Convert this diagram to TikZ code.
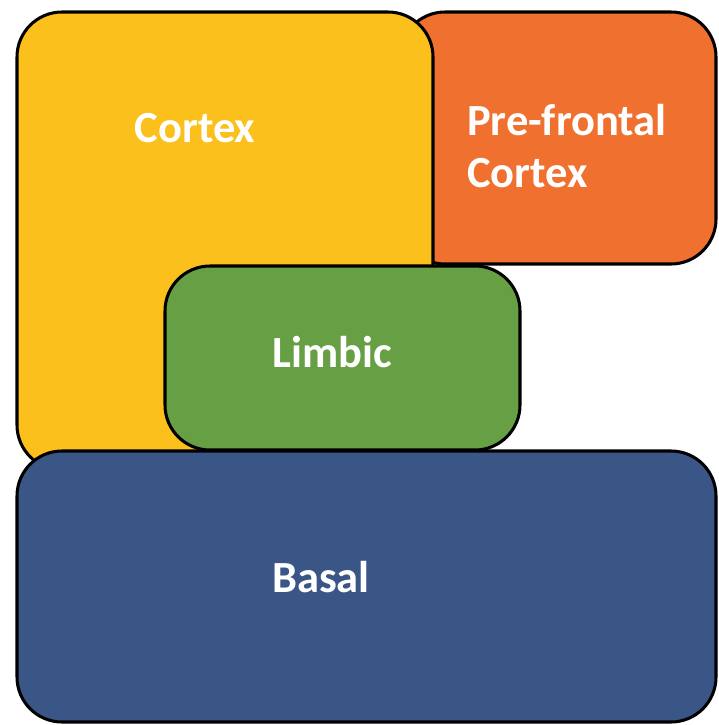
\documentclass[tikz,border=0pt]{standalone}
\usepackage{fontspec}
\setmainfont{Carlito}
\tikzset{>=stealth}
\definecolor{cortexcol}{HTML}{FCC01C}
\definecolor{frontcol}{HTML}{F07030}
\definecolor{limbcol}{HTML}{67A044}
\definecolor{basalcol}{HTML}{3A5687}
\tikzset{
  region/.style={draw=black, line width=2.6pt, rounded corners=1.35cm},
  lbl/.style={text=white, font=\fontsize{38}{45}\selectfont\bfseries, inner sep=0pt}
}

\begin{document}
\begin{tikzpicture}[x=0.03cm, y=-0.03cm]
\useasboundingbox (0,0) rectangle (718,725);
% corners of the areas
\coordinate (F1) at (400,12);
\coordinate (F2) at (716,264);
\coordinate (C1) at (17,12);
\coordinate (C2) at (433,470);
\coordinate (L1) at (165,266);
\coordinate (L2) at (520,450);
\coordinate (B1) at (17,451);
\coordinate (B2) at (716,722);
\filldraw[region, fill=frontcol] (F1) rectangle (F2);
\filldraw[region, fill=cortexcol] (C1) rectangle (C2);
\filldraw[region, fill=limbcol] (L1) rectangle (L2);
\filldraw[region, fill=basalcol] (B1) rectangle (B2);
% labels
\node[lbl] (cortex) at (195,128) {Cortex};
\node[lbl, align=left, anchor=west] (front) at (467,146) {Pre-frontal\\Cortex};
\node[lbl] (limbic) at (332,352) {Limbic};
\node[lbl] (basal) at (321,577) {Basal};
\end{tikzpicture}
\end{document}
